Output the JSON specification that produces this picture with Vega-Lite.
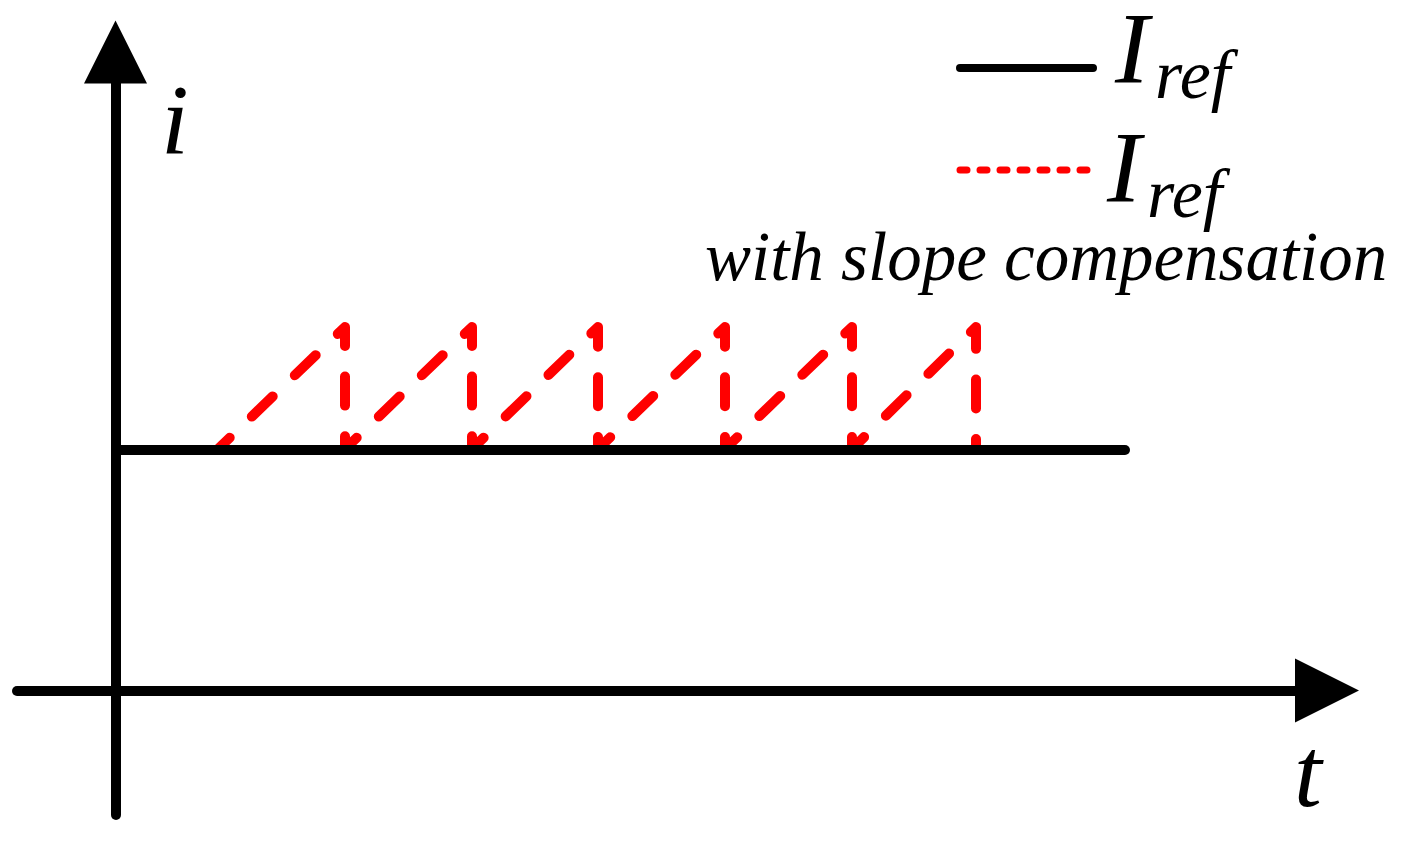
{
  "$schema": "https://vega.github.io/schema/vega-lite/v6.json",
  "width": 1416,
  "height": 851,
  "autosize": {"type": "fit", "contains": "padding"},
  "padding": 0,
  "background": "white",
  "config": {"view": {"stroke": null}},
  "datasets": {
    "axes": [
      {"t": 0, "i": -124, "t2": 0, "i2": 615},
      {"t": -99, "i": 0, "t2": 1190, "i2": 0}
    ],
    "arrowUp": [{"t": -0.5, "i": 639}],
    "arrowRight": [{"t": 1211, "i": 0.5}],
    "slope": [
      {"k": 0, "t": 102, "i": 242},
      {"k": 1, "t": 229, "i": 364},
      {"k": 2, "t": 229, "i": 242},
      {"k": 3, "t": 356, "i": 364},
      {"k": 4, "t": 356, "i": 242},
      {"k": 5, "t": 482, "i": 364},
      {"k": 6, "t": 482, "i": 242},
      {"k": 7, "t": 609, "i": 364},
      {"k": 8, "t": 609, "i": 242},
      {"k": 9, "t": 736, "i": 364},
      {"k": 10, "t": 736, "i": 242},
      {"k": 11, "t": 860, "i": 364},
      {"k": 12, "t": 860, "i": 242}
    ],
    "iref": [
      {"t": 1, "i": 241},
      {"t": 1009, "i": 241}
    ],
    "legendSolid": [{"t": 844, "t2": 977, "i": 623}],
    "legendDash": [{"t": 844, "t2": 977, "i": 521}],
    "axisLabels": [
      {"t": 45, "i": 538, "label": "i"},
      {"t": 1178, "i": -115, "label": "t"}
    ],
    "bigI": [
      {"t": 999, "i": 608, "label": "I"},
      {"t": 991, "i": 489, "label": "I"}
    ],
    "subRef": [
      {"t": 1039, "i": 593, "label": "ref"},
      {"t": 1031, "i": 474, "label": "ref"}
    ],
    "caption": [{"t": 589, "i": 411, "label": "with slope compensation"}]
  },
  "encoding": {
    "x": {"field": "t", "type": "quantitative", "scale": {"domain": [-116, 1300], "nice": false, "zero": false}, "axis": null},
    "y": {"field": "i", "type": "quantitative", "scale": {"domain": [-160, 691], "nice": false, "zero": false}, "axis": null}
  },
  "layer": [
    {
      "data": {"name": "slope"},
      "mark": {"type": "line", "color": "#ff0000", "strokeWidth": 10, "strokeDash": [29, 30.62], "strokeDashOffset": 12.76, "strokeCap": "round", "strokeJoin": "round"},
      "encoding": {"order": {"field": "k", "type": "quantitative"}}
    },
    {
      "data": {"name": "iref"},
      "mark": {"type": "line", "color": "black", "strokeWidth": 10, "strokeCap": "round"},
      "encoding": {}
    },
    {
      "data": {"name": "axes"},
      "mark": {"type": "rule", "color": "black", "strokeWidth": 10, "strokeCap": "round"},
      "encoding": {"x2": {"field": "t2"}, "y2": {"field": "i2"}}
    },
    {
      "data": {"name": "arrowUp"},
      "mark": {"type": "point", "shape": "M0,-1L1,1L-1,1Z", "size": 3969, "filled": true, "color": "black", "opacity": 1, "strokeWidth": 0}
    },
    {
      "data": {"name": "arrowRight"},
      "mark": {"type": "point", "shape": "M1,0L-1,1L-1,-1Z", "size": 4096, "filled": true, "color": "black", "opacity": 1, "strokeWidth": 0}
    },
    {
      "data": {"name": "legendSolid"},
      "mark": {"type": "rule", "color": "black", "strokeWidth": 8, "strokeCap": "round"},
      "encoding": {"x2": {"field": "t2"}}
    },
    {
      "data": {"name": "legendDash"},
      "mark": {"type": "rule", "color": "#ff0000", "strokeWidth": 7, "strokeCap": "round", "strokeDash": [7, 13]},
      "encoding": {"x2": {"field": "t2"}}
    },
    {
      "data": {"name": "axisLabels"},
      "mark": {"type": "text", "font": "Liberation Serif", "fontStyle": "italic", "fontSize": 100, "align": "left", "baseline": "alphabetic", "color": "black"},
      "encoding": {"text": {"field": "label"}}
    },
    {
      "data": {"name": "bigI"},
      "mark": {"type": "text", "font": "Liberation Serif", "fontStyle": "italic", "fontSize": 102, "align": "left", "baseline": "alphabetic", "color": "black"},
      "encoding": {"text": {"field": "label"}}
    },
    {
      "data": {"name": "subRef"},
      "mark": {"type": "text", "font": "Liberation Serif", "fontStyle": "italic", "fontSize": 70, "align": "left", "baseline": "alphabetic", "color": "black"},
      "encoding": {"text": {"field": "label"}}
    },
    {
      "data": {"name": "caption"},
      "mark": {"type": "text", "font": "Liberation Serif", "fontStyle": "italic", "fontSize": 69, "align": "left", "baseline": "alphabetic", "color": "black"},
      "encoding": {"text": {"field": "label"}}
    }
  ]
}
